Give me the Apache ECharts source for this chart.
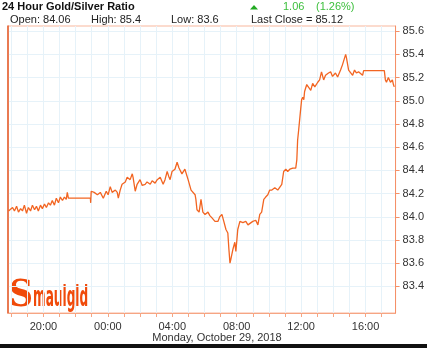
<!DOCTYPE html>
<html>
<head>
<meta charset="utf-8">
<script src="https://cdn.jsdelivr.net/npm/echarts@6/dist/echarts.min.js"></script>
<style>html,body{margin:0;padding:0;background:#fff;}#c{width:427px;height:348px;}</style>
</head>
<body>
<div id="c"></div>
<script>
// ---- data ----
const times = [
'2018-10-28T17:50','2018-10-28T17:57','2018-10-28T18:05','2018-10-28T18:12','2018-10-28T18:20','2018-10-28T18:27',
'2018-10-28T18:35','2018-10-28T18:42','2018-10-28T18:49','2018-10-28T18:57','2018-10-28T19:04','2018-10-28T19:12',
'2018-10-28T19:19','2018-10-28T19:27','2018-10-28T19:34','2018-10-28T19:41','2018-10-28T19:49','2018-10-28T19:56',
'2018-10-28T20:04','2018-10-28T20:11','2018-10-28T20:19','2018-10-28T20:26','2018-10-28T20:33','2018-10-28T20:41',
'2018-10-28T20:48','2018-10-28T20:56','2018-10-28T21:03','2018-10-28T21:11','2018-10-28T21:18','2018-10-28T21:25',
'2018-10-28T21:29','2018-10-28T21:33','2018-10-28T22:55','2018-10-28T22:56','2018-10-28T22:58','2018-10-28T23:09',
'2018-10-28T23:21','2018-10-28T23:32','2018-10-28T23:43','2018-10-28T23:54','2018-10-29T00:01','2018-10-29T00:09',
'2018-10-29T00:16','2018-10-29T00:28','2018-10-29T00:35','2018-10-29T00:39','2018-10-29T00:46','2018-10-29T00:53',
'2018-10-29T01:05','2018-10-29T01:12','2018-10-29T01:23','2018-10-29T01:31','2018-10-29T01:34','2018-10-29T01:42',
'2018-10-29T01:49','2018-10-29T01:53','2018-10-29T02:00','2018-10-29T02:08','2018-10-29T02:19','2018-10-29T02:26',
'2018-10-29T02:38','2018-10-29T02:45','2018-10-29T02:56','2018-10-29T03:04','2018-10-29T03:15','2018-10-29T03:26',
'2018-10-29T03:33','2018-10-29T03:41','2018-10-29T03:48','2018-10-29T03:52','2018-10-29T03:59','2018-10-29T04:10',
'2018-10-29T04:18','2018-10-29T04:25','2018-10-29T04:29','2018-10-29T04:36','2018-10-29T04:40','2018-10-29T04:47',
'2018-10-29T04:59','2018-10-29T05:10','2018-10-29T05:17','2018-10-29T05:25','2018-10-29T05:28','2018-10-29T05:32',
'2018-10-29T05:40','2018-10-29T05:43','2018-10-29T05:47','2018-10-29T05:54','2018-10-29T06:02','2018-10-29T06:13',
'2018-10-29T06:20','2018-10-29T06:28','2018-10-29T06:39','2018-10-29T06:50','2018-10-29T06:57','2018-10-29T07:05',
'2018-10-29T07:12','2018-10-29T07:20','2018-10-29T07:27','2018-10-29T07:31','2018-10-29T07:35','2018-10-29T07:38',
'2018-10-29T07:46','2018-10-29T07:53','2018-10-29T07:57','2018-10-29T08:04','2018-10-29T08:12','2018-10-29T08:23',
'2018-10-29T08:34','2018-10-29T08:42','2018-10-29T08:49','2018-10-29T09:00','2018-10-29T09:11','2018-10-29T09:19',
'2018-10-29T09:26','2018-10-29T09:33','2018-10-29T09:41','2018-10-29T09:48','2018-10-29T09:56','2018-10-29T10:03',
'2018-10-29T10:11','2018-10-29T10:22','2018-10-29T10:33','2018-10-29T10:40','2018-10-29T10:48','2018-10-29T10:55',
'2018-10-29T11:03','2018-10-29T11:10','2018-10-29T11:18','2018-10-29T11:29','2018-10-29T11:36','2018-10-29T11:40',
'2018-10-29T11:44','2018-10-29T11:47','2018-10-29T11:51','2018-10-29T11:55','2018-10-29T11:58','2018-10-29T12:02',
'2018-10-29T12:06','2018-10-29T12:10','2018-10-29T12:13','2018-10-29T12:21','2018-10-29T12:28','2018-10-29T12:36',
'2018-10-29T12:43','2018-10-29T12:51','2018-10-29T13:02','2018-10-29T13:09','2018-10-29T13:16','2018-10-29T13:24',
'2018-10-29T13:31','2018-10-29T13:42','2018-10-29T13:50','2018-10-29T13:57','2018-10-29T14:08','2018-10-29T14:16',
'2018-10-29T14:27','2018-10-29T14:34','2018-10-29T14:42','2018-10-29T14:46','2018-10-29T14:49','2018-10-29T14:57',
'2018-10-29T15:04','2018-10-29T15:12','2018-10-29T15:19','2018-10-29T15:26','2018-10-29T15:34','2018-10-29T15:41',
'2018-10-29T15:49','2018-10-29T15:53','2018-10-29T17:10','2018-10-29T17:14','2018-10-29T17:18','2018-10-29T17:25',
'2018-10-29T17:33','2018-10-29T17:40','2018-10-29T17:44','2018-10-29T17:47'
];
const ratio = [
84.05,84.05,84.08,84.05,84.09,84.04,
84.07,84.05,84.10,84.03,84.08,84.05,
84.10,84.06,84.09,84.05,84.10,84.07,
84.11,84.08,84.12,84.10,84.14,84.10,
84.16,84.12,84.17,84.14,84.17,84.15,
84.21,84.16,84.16,84.12,84.22,84.21,
84.19,84.21,84.16,84.22,84.19,84.26,
84.21,84.23,84.21,84.16,84.23,84.28,
84.30,84.34,84.32,84.37,84.34,84.22,
84.28,84.29,84.32,84.27,84.28,84.30,
84.28,84.31,84.29,84.32,84.34,84.28,
84.32,84.39,84.34,84.32,84.39,84.41,
84.47,84.42,84.42,84.37,84.36,84.41,
84.32,84.23,84.23,84.19,84.15,84.06,
84.04,84.04,84.15,84.04,84.02,84.04,
84.01,83.99,83.96,83.96,84.00,84.02,
83.96,83.89,83.86,83.72,83.60,83.63,
83.72,83.78,83.70,83.89,83.96,83.95,
83.96,83.93,83.94,83.96,83.97,83.93,
84.02,84.04,84.15,84.17,84.19,84.23,
84.23,84.25,84.23,84.23,84.28,84.39,
84.41,84.39,84.41,84.42,84.41,84.42,
84.49,84.66,84.75,84.75,84.92,85.01,
85.03,85.01,85.08,85.14,85.14,85.09,
85.15,85.12,85.16,85.18,85.25,85.18,
85.22,85.24,85.25,85.21,85.24,85.205,
85.265,85.31,85.37,85.40,85.37,85.265,
85.25,85.22,85.265,85.24,85.25,85.265,
85.22,85.26,85.26,85.18,85.16,85.20,
85.16,85.18,85.14,85.12
];
const hourTicks = [
'2018-10-28T18:00','2018-10-28T19:00','2018-10-28T20:00','2018-10-28T21:00','2018-10-28T22:00','2018-10-28T23:00',
'2018-10-29T00:00','2018-10-29T01:00','2018-10-29T02:00','2018-10-29T03:00','2018-10-29T04:00','2018-10-29T05:00',
'2018-10-29T06:00','2018-10-29T07:00','2018-10-29T08:00','2018-10-29T09:00','2018-10-29T10:00','2018-10-29T11:00',
'2018-10-29T12:00','2018-10-29T13:00','2018-10-29T14:00','2018-10-29T15:00','2018-10-29T16:00','2018-10-29T17:00'
];
const xLabelTimes = ['2018-10-28T20:00','2018-10-29T00:00','2018-10-29T04:00','2018-10-29T08:00','2018-10-29T12:00','2018-10-29T16:00'];
const yTicks = [83.4,83.6,83.8,84.0,84.2,84.4,84.6,84.8,85.0,85.2,85.4,85.6];
const titleText = '24 Hour Gold/Silver Ratio';
const changeText = '1.06';
const changePct = '(1.26%)';
const statTexts = ['Open: 84.06','High: 85.4','Low: 83.6','Last Close = 85.12'];
const dateText = 'Monday, October 29, 2018';

const ts = s => Date.parse(s + ':00Z');
const seriesData = times.map((t, i) => [ts(t), ratio[i]]);
const pad = n => (n < 10 ? '0' : '') + n;

const chart = echarts.init(document.getElementById('c'));
const FONT = '"Liberation Sans", Arial, sans-serif';
const yMin = 83.17, yMax = 85.645;

chart.setOption({
  animation: false,
  backgroundColor: '#fff',
  grid: { left: 8, right: 31, top: 26, bottom: 35, show: true, borderColor: '#f8b79d', borderWidth: 1 },
  xAxis: {
    type: 'value',
    min: ts('2018-10-28T17:48'), max: ts('2018-10-29T17:52'),
    axisLine: { show: true, lineStyle: { color: '#f6a583', width: 1 } },
    axisTick: { show: true, length: 4, lineStyle: { color: '#f6a583' }, customValues: hourTicks.map(ts) },
    axisLabel: {
      customValues: xLabelTimes.map(ts), margin: 8, color: '#333', fontSize: 11, fontFamily: FONT,
      formatter: v => pad(new Date(v).getUTCHours()) + ':00'
    },
    splitLine: { show: true, lineStyle: { color: '#e6f2f9', width: 1 } }
  },
  yAxis: [{
    type: 'value', position: 'right', min: yMin, max: yMax,
    axisLine: { show: true, lineStyle: { color: '#f59068', width: 1 } },
    axisTick: { show: true, length: 4, lineStyle: { color: '#f59068' }, customValues: yTicks },
    axisLabel: { customValues: yTicks, margin: 7, color: '#333', fontSize: 11, fontFamily: FONT, formatter: v => v.toFixed(1) },
    splitLine: { show: true, lineStyle: { color: '#e6f2f9', width: 1 } }
  }, {
    type: 'value', position: 'left', min: yMin, max: yMax,
    axisLine: { show: true, lineStyle: { color: '#e35a28', width: 1.5 } },
    axisTick: { show: false }, axisLabel: { show: false }, splitLine: { show: false }
  }],
  series: [{
    type: 'line', data: seriesData, yAxisIndex: 0, showSymbol: false, symbol: 'none',
    lineStyle: { color: '#f26522', width: 1.3 }, z: 3
  }],
  graphic: [
    { type: 'text', left: 2, top: 1, style: { text: titleText, font: 'bold 11px ' + FONT, fill: '#111' } },
    { type: 'polygon', shape: { points: [[250, 9.5], [254, 5], [258, 9.5]] }, style: { fill: '#22aa22' } },
    { type: 'text', left: 283, top: 1, style: { text: changeText, font: '11px ' + FONT, fill: '#3cbf3c' } },
    { type: 'text', left: 316, top: 1, style: { text: changePct, font: '11px ' + FONT, fill: '#3cbf3c' } },
    { type: 'text', left: 10, top: 14, style: { text: statTexts[0], font: '11px ' + FONT, fill: '#222' } },
    { type: 'text', left: 91, top: 14, style: { text: statTexts[1], font: '11px ' + FONT, fill: '#222' } },
    { type: 'text', left: 171, top: 14, style: { text: statTexts[2], font: '11px ' + FONT, fill: '#222' } },
    { type: 'text', left: 251, top: 14, style: { text: statTexts[3], font: '11px ' + FONT, fill: '#222' } },
    { type: 'text', x: 217, y: 338, style: { text: dateText, font: '11px ' + FONT, fill: '#333', align: 'center', verticalAlign: 'middle' } },
    { type: 'text', x: 9, y: 296, scaleX: 0.9, style: { text: 'S', font: 'bold 37px "DejaVu Serif"', fill: '#f04a0a', align: 'left', verticalAlign: 'middle' } },
    { type: 'text', x: 33, y: 299, scaleX: 0.54, scaleY: 1.15, style: { text: 'maulgld', font: 'bold 25px "DejaVu Sans Condensed"', fill: '#f04a0a', align: 'left', verticalAlign: 'middle' } },
    { type: 'rect', shape: { x: 0, y: 344, width: 427, height: 4 }, style: { fill: '#111' } }
  ]
});
</script>
</body>
</html>
